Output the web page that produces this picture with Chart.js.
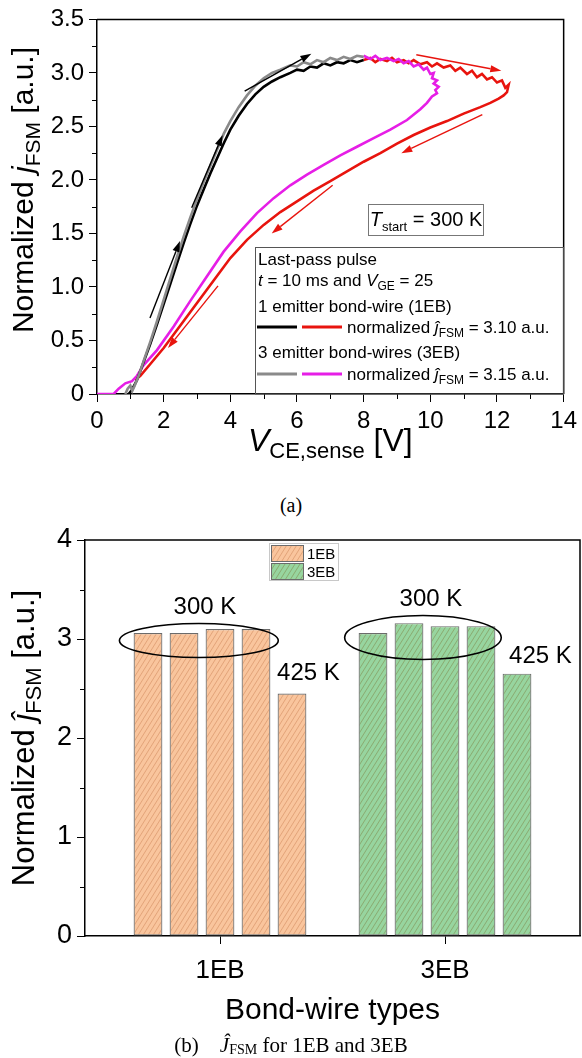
<!DOCTYPE html>
<html>
<head>
<meta charset="utf-8">
<script src="https://cdn.jsdelivr.net/npm/chart.js@4.4.1/dist/chart.umd.min.js"></script>
<style>
  html, body { margin: 0; padding: 0; background: #fff; width: 582px; height: 1058px; overflow: hidden; }
  canvas { position: absolute; left: 0; display: block; }
  #cA { top: 0; }
  #cB { top: 500px; }
  .cap { position: absolute; left: 0; width: 582px; text-align: center; white-space: nowrap;
         font-family: "Liberation Serif", "DejaVu Serif", serif; color: #000; }
  #capA { top: 493px; font-size: 20px; line-height: 24px; }
  #capB { top: 1032px; font-size: 21px; line-height: 26px; }
  #capB .sub { font-size: 14px; position: relative; top: 2px; }
</style>
</head>
<body>
<canvas id="cA" width="582" height="480"></canvas>
<div class="cap" id="capA">(a)</div>
<canvas id="cB" width="582" height="558"></canvas>
<div class="cap" id="capB">(b)&nbsp;&nbsp;&nbsp; <i>Ĵ</i><span class="sub">FSM</span> for 1EB and 3EB</div>

<script>
// ---------- panel (a): normalized current density vs. sense voltage ----------
// 1EB, rising part (black)
const blackV = [0.95, 1.05, 1.2, 1.4, 1.6, 1.8, 2.0, 2.2, 2.4, 2.6, 2.8, 3.0, 3.2, 3.4, 3.6, 3.8, 4.0, 4.25, 4.5, 4.75,
                5.0, 5.25, 5.5, 5.8, 6.0, 6.2, 6.4, 6.6, 6.8, 7.0, 7.2, 7.4, 7.6, 7.8, 8.0];
const blackJ = [0.00, 0.04, 0.13, 0.30, 0.47, 0.65, 0.84, 1.03, 1.22, 1.41, 1.59, 1.76, 1.91, 2.06, 2.20, 2.34, 2.47, 2.60, 2.71, 2.80,
                2.87, 2.92, 2.96, 3.00, 3.03, 3.02, 3.06, 3.05, 3.09, 3.07, 3.10, 3.09, 3.12, 3.10, 3.12];
// 1EB, turning and falling part (red)
const redV = [8.0, 8.2, 8.35, 8.5, 8.7, 8.85, 9.0, 9.2, 9.35, 9.5, 9.7, 9.9, 10.05, 10.2, 10.4, 10.6, 10.75, 10.9, 11.1, 11.25,
              11.4, 11.55, 11.7, 11.85, 12.0, 12.15, 12.25, 12.35, 12.3, 12.2, 12.05, 11.8, 11.5, 11.0, 10.5, 10.0, 9.5, 9.0,
              8.5, 8.0, 7.5, 7.0, 6.5, 6.0, 5.5, 5.0, 4.5, 4.0, 3.5, 3.0, 2.5, 2.0, 1.6, 1.3, 1.15];
const redJ = [3.12, 3.14, 3.10, 3.13, 3.11, 3.14, 3.10, 3.12, 3.09, 3.12, 3.08, 3.10, 3.06, 3.09, 3.05, 3.07, 3.02, 3.05, 2.99, 3.02,
              2.96, 2.99, 2.94, 2.96, 2.91, 2.93, 2.86, 2.89, 2.82, 2.79, 2.76, 2.72, 2.68, 2.62, 2.55, 2.49, 2.42, 2.34,
              2.25, 2.17, 2.08, 1.99, 1.90, 1.80, 1.70, 1.58, 1.44, 1.27, 1.06, 0.85, 0.64, 0.43, 0.28, 0.17, 0.13];
// 3EB, rising part (gray)
const grayV = [0.85, 0.92, 1.0, 1.06, 1.12, 1.25, 1.4, 1.6, 1.8, 2.0, 2.2, 2.4, 2.6, 2.8, 3.0, 3.2, 3.4, 3.6, 3.8, 4.0,
               4.25, 4.5, 4.75, 5.0, 5.25, 5.5, 5.8, 6.0, 6.2, 6.4, 6.6, 6.8, 7.0, 7.2, 7.4, 7.6, 7.8, 8.0];
const grayJ = [0.00, 0.05, 0.08, 0.03, 0.07, 0.17, 0.31, 0.49, 0.68, 0.88, 1.08, 1.28, 1.47, 1.65, 1.82, 1.98, 2.13, 2.28, 2.43, 2.55,
               2.68, 2.79, 2.88, 2.95, 3.00, 3.03, 3.07, 3.06, 3.10, 3.08, 3.12, 3.10, 3.14, 3.12, 3.15, 3.13, 3.16, 3.15];
// 3EB, turning and falling part (magenta)
const magentaV = [8.0, 8.2, 8.35, 8.5, 8.7, 8.9, 9.05, 9.2, 9.35, 9.5, 9.65, 9.8, 9.9, 10.0, 10.1, 10.05, 10.2, 10.1, 10.25, 10.15,
                  10.2, 10.05, 9.9, 9.7, 9.3, 8.8, 8.3, 7.8, 7.3, 6.8, 6.3, 5.8, 5.3, 4.8, 4.3, 3.8, 3.3, 2.8, 2.3, 1.8,
                  1.4, 1.2, 1.05, 0.85, 0.65, 0.5, 0.0];
const magentaJ = [3.16, 3.13, 3.16, 3.12, 3.14, 3.11, 3.13, 3.09, 3.11, 3.06, 3.08, 3.03, 3.05, 2.99, 3.00, 2.95, 2.93, 2.90, 2.87, 2.84,
                  2.81, 2.78, 2.72, 2.66, 2.56, 2.47, 2.39, 2.31, 2.23, 2.14, 2.05, 1.95, 1.83, 1.69, 1.52, 1.33, 1.10, 0.87, 0.63, 0.41,
                  0.27, 0.17, 0.12, 0.10, 0.05, 0.00, 0.00];
// direction arrows [V0, J0, V1, J1]
const arrowsBlack = [[1.59, 0.71, 2.49, 1.43], [2.84, 1.74, 3.77, 2.42], [4.43, 2.83, 6.43, 3.18]];
const arrowsRed = [[9.58, 3.17, 12.13, 3.02], [11.56, 2.61, 9.13, 2.25], [7.07, 1.95, 5.24, 1.50], [3.63, 1.01, 2.13, 0.43]];
const peakFSM = ['3.10', '3.15'];

// ---------- panel (b): normalized peak current per pulse ----------
const bondTypes = ['1EB', '3EB'];
const pulses1EB = [3.06, 3.06, 3.10, 3.10, 2.45];
const pulses3EB = [3.06, 3.16, 3.13, 3.13, 2.65];
const tempLabels = ['300 K', '425 K'];

const SANS = '"Liberation Sans", Arial, Helvetica, sans-serif';
const toXY = (xs, ys) => xs.map((x, i) => ({ x: x, y: ys[i] }));

// draws a run of differently styled text pieces on one baseline
function textRun(ctx, parts, x, y, align) {
  let total = 0;
  const m = parts.map(p => {
    const font = (p.it ? 'italic ' : '') + p.sz + 'px ' + SANS;
    ctx.font = font;
    const w = ctx.measureText(p.t).width;
    total += w;
    return { t: p.t, font: font, w: w, dy: p.dy || 0 };
  });
  let cx = align === 'center' ? x - total / 2 : (align === 'right' ? x - total : x);
  ctx.textAlign = 'left';
  ctx.textBaseline = 'alphabetic';
  ctx.fillStyle = '#000';
  for (const p of m) { ctx.font = p.font; ctx.fillText(p.t, cx, y + p.dy); cx += p.w; }
}

function arrow(ctx, x0, y0, x1, y1, color) {
  const a = Math.atan2(y1 - y0, x1 - x0), L = 11, W = 3.6;
  const bx = x1 - L * Math.cos(a), by = y1 - L * Math.sin(a);
  ctx.strokeStyle = color; ctx.fillStyle = color; ctx.lineWidth = 1.4;
  ctx.beginPath(); ctx.moveTo(x0, y0); ctx.lineTo(bx, by); ctx.stroke();
  ctx.beginPath();
  ctx.moveTo(x1, y1);
  ctx.lineTo(bx - W * Math.sin(a), by + W * Math.cos(a));
  ctx.lineTo(bx + W * Math.sin(a), by - W * Math.cos(a));
  ctx.closePath(); ctx.fill();
}

function minorTicks(ctx, scale, values, len) {
  ctx.strokeStyle = '#000'; ctx.lineWidth = 1;
  ctx.beginPath();
  for (const v of values) {
    const p = Math.round(scale.getPixelForValue(v)) + 0.5;
    if (scale.axis === 'x') { ctx.moveTo(p, scale.top); ctx.lineTo(p, scale.top + len); }
    else { ctx.moveTo(scale.right - len, p); ctx.lineTo(scale.right, p); }
  }
  ctx.stroke();
}

function frame(ctx, area) {
  ctx.strokeStyle = '#000'; ctx.lineWidth = 1.5;
  ctx.beginPath();
  ctx.moveTo(area.left, area.top); ctx.lineTo(area.right, area.top); ctx.lineTo(area.right, area.bottom);
  ctx.stroke();
}

const COLORS = { black: '#000000', red: '#e8140e', gray: '#8a8a8a', magenta: '#e61ee6' };

// ---------- chart (a) ----------
const decorA = {
  id: 'decorA',
  afterDraw(chart) {
    const ctx = chart.ctx, a = chart.chartArea, xs = chart.scales.x, ys = chart.scales.y;
    ctx.save();
    frame(ctx, a);
    minorTicks(ctx, xs, [1, 3, 5, 7, 9, 11, 13], 5);
    minorTicks(ctx, ys, [0.25, 0.75, 1.25, 1.75, 2.25, 2.75, 3.25], 5);

    for (const r of arrowsBlack) arrow(ctx, xs.getPixelForValue(r[0]), ys.getPixelForValue(r[1]), xs.getPixelForValue(r[2]), ys.getPixelForValue(r[3]), COLORS.black);
    for (const r of arrowsRed) arrow(ctx, xs.getPixelForValue(r[0]), ys.getPixelForValue(r[1]), xs.getPixelForValue(r[2]), ys.getPixelForValue(r[3]), COLORS.red);

    // start temperature box
    ctx.strokeStyle = '#777'; ctx.lineWidth = 1;
    ctx.strokeRect(368.5, 204.5, 115, 31);
    textRun(ctx, [{ t: 'T', sz: 20, it: true }, { t: 'start', sz: 13, dy: 5 }, { t: ' = 300 K', sz: 20 }], 426, 226, 'center');

    // legend
    ctx.strokeStyle = '#555'; ctx.lineWidth = 1;
    ctx.strokeRect(255.5, 247.5, a.right - 255.5, a.bottom - 247.5);
    const L = 258, fs = 17, sub = 12;
    textRun(ctx, [{ t: 'Last-pass pulse', sz: fs }], L, 265, 'left');
    textRun(ctx, [{ t: 't', sz: fs, it: true }, { t: ' = 10 ms and ', sz: fs }, { t: 'V', sz: fs, it: true }, { t: 'GE', sz: sub, dy: 4 }, { t: ' = 25', sz: fs }], L, 286, 'left');
    textRun(ctx, [{ t: '1 emitter bond-wire (1EB)', sz: fs }], L, 312, 'left');
    textRun(ctx, [{ t: '3 emitter bond-wires (3EB)', sz: fs }], L, 358, 'left');
    const rows = [[327, COLORS.black, COLORS.red, peakFSM[0]], [374, COLORS.gray, COLORS.magenta, peakFSM[1]]];
    for (const row of rows) {
      ctx.lineWidth = 3;
      ctx.strokeStyle = row[1]; ctx.beginPath(); ctx.moveTo(257, row[0]); ctx.lineTo(297, row[0]); ctx.stroke();
      ctx.strokeStyle = row[2]; ctx.beginPath(); ctx.moveTo(302, row[0]); ctx.lineTo(342, row[0]); ctx.stroke();
      textRun(ctx, [{ t: 'normalized ', sz: fs }, { t: 'ĵ', sz: fs, it: true }, { t: 'FSM', sz: sub, dy: 4 }, { t: ' = ' + row[3] + ' a.u.', sz: fs }], 347, row[0] + 6, 'left');
    }

    // axis titles
    textRun(ctx, [{ t: 'V', sz: 32, it: true }, { t: 'CE,sense', sz: 22, dy: 7 }, { t: ' [V]', sz: 32 }], (a.left + a.right) / 2, 451, 'center');
    ctx.save();
    ctx.translate(33, 190);
    ctx.rotate(-Math.PI / 2);
    textRun(ctx, [{ t: 'Normalized ', sz: 30 }, { t: 'j', sz: 30, it: true }, { t: 'FSM', sz: 21, dy: 7 }, { t: ' [a.u.]', sz: 30 }], 0, 0, 'center');
    ctx.restore();
    ctx.restore();
  }
};

const lineDs = (xs, ys, color) => ({
  data: toXY(xs, ys), showLine: true, borderColor: color, backgroundColor: color,
  borderWidth: 2.6, pointRadius: 0, tension: 0, fill: false
});

new Chart(document.getElementById('cA'), {
  type: 'scatter',
  data: {
    datasets: [
      lineDs(grayV, grayJ, COLORS.gray),
      lineDs(blackV, blackJ, COLORS.black),
      lineDs(magentaV, magentaJ, COLORS.magenta),
      lineDs(redV, redJ, COLORS.red)
    ]
  },
  options: {
    responsive: false, animation: false, events: [],
    layout: { padding: { top: 17, right: 17, left: 0, bottom: 0 } },
    plugins: { legend: { display: false }, tooltip: { enabled: false } },
    scales: {
      x: {
        type: 'linear', min: 0, max: 14,
        ticks: { stepSize: 2, color: '#000', padding: 5, maxRotation: 0, font: { family: SANS, size: 24 } },
        grid: { display: true, drawOnChartArea: false, drawTicks: true, tickLength: 8, tickColor: '#000', tickWidth: 1 },
        border: { display: true, color: '#000', width: 1.5 },
        afterFit(s) { s.height = 86; }
      },
      y: {
        type: 'linear', min: 0, max: 3.5,
        ticks: { stepSize: 0.5, color: '#000', padding: 5, font: { family: SANS, size: 24 } },
        grid: { display: true, drawOnChartArea: false, drawTicks: true, tickLength: 8, tickColor: '#000', tickWidth: 1 },
        border: { display: true, color: '#000', width: 1.5 },
        afterFit(s) { s.width = 97; }
      }
    }
  },
  plugins: [decorA]
});

// ---------- chart (b) ----------
function hatch(fill, line) {
  const w = 5, h = 8;
  const c = document.createElement('canvas');
  c.width = w; c.height = h;
  const g = c.getContext('2d');
  g.fillStyle = fill; g.fillRect(0, 0, w, h);
  g.strokeStyle = line; g.lineWidth = 0.8;
  g.beginPath();
  for (const ox of [-w, 0, w]) { g.moveTo(ox - 1, h + h / w); g.lineTo(ox + w + 1, -h / w); }
  g.stroke();
  return g.createPattern(c, 'repeat');
}
const ctxB = document.getElementById('cB').getContext('2d');
const hatchOrange = hatch('#f9c59d', '#dc9a70');
const hatchGreen = hatch('#97d59f', '#86a064');
const BAR_EDGE = '#6b6b6b';

const decorB = {
  id: 'decorB',
  afterDraw(chart) {
    const ctx = chart.ctx, a = chart.chartArea, xs = chart.scales.x, ys = chart.scales.y;
    ctx.save();
    frame(ctx, a);
    minorTicks(ctx, ys, [0.5, 1.5, 2.5, 3.5], 5);

    // legend
    ctx.strokeStyle = '#c8c8c8'; ctx.lineWidth = 1;
    ctx.strokeRect(269.5, 43.5, 69, 37);
    [[hatchOrange, 45, bondTypes[0]], [hatchGreen, 63, bondTypes[1]]].forEach(r => {
      ctx.fillStyle = r[0]; ctx.fillRect(271, r[1], 32, 16);
      ctx.strokeStyle = BAR_EDGE; ctx.strokeRect(271.5, r[1] + 0.5, 32, 16);
      textRun(ctx, [{ t: r[2], sz: 15 }], 307, r[1] + 14, 'left');
    });

    // 300 K groups and 425 K labels
    const rings = [[0.906, 2.985, 0.353, 0.172], [1.902, 3.015, 0.348, 0.222]];
    ctx.strokeStyle = '#000'; ctx.lineWidth = 1.6;
    for (const r of rings) {
      const cx = xs.getPixelForValue(r[0]), cy = ys.getPixelForValue(r[1]);
      const rx = xs.getPixelForValue(r[0] + r[2]) - cx, ry = cy - ys.getPixelForValue(r[1] + r[3]);
      ctx.beginPath(); ctx.ellipse(cx, cy, rx, ry, 0, 0, Math.PI * 2); ctx.stroke();
    }
    const notes = [[0.933, 3.25, tempLabels[0]], [1.9375, 3.33, tempLabels[0]], [1.393, 2.59, tempLabels[1]], [2.424, 2.76, tempLabels[1]]];
    for (const n of notes) textRun(ctx, [{ t: n[2], sz: 24 }], xs.getPixelForValue(n[0]), ys.getPixelForValue(n[1]), 'center');

    // axis titles
    textRun(ctx, [{ t: 'Bond-wire types', sz: 30 }], (a.left + a.right) / 2, 519, 'center');
    ctx.save();
    ctx.translate(34, 238);
    ctx.rotate(-Math.PI / 2);
    textRun(ctx, [{ t: 'Normalized ', sz: 31 }, { t: 'ĵ', sz: 31, it: true }, { t: 'FSM', sz: 22, dy: 7 }, { t: ' [a.u.]', sz: 31 }], 0, 0, 'center');
    ctx.restore();
    ctx.restore();
  }
};

new Chart(ctxB, {
  type: 'bar',
  data: {
    datasets: pulses1EB.map((v, i) => ({
      label: 'Pulse ' + (i + 1),
      data: [{ x: 1, y: pulses1EB[i] }, { x: 2, y: pulses3EB[i] }],
      backgroundColor: [hatchOrange, hatchGreen],
      borderColor: BAR_EDGE, borderWidth: 1.2, borderSkipped: false,
      categoryPercentage: 0.8, barPercentage: 0.8
    }))
  },
  options: {
    responsive: false, animation: false, events: [],
    layout: { padding: { top: 40, right: 2, left: 0, bottom: 0 } },
    plugins: { legend: { display: false }, tooltip: { enabled: false } },
    scales: {
      x: {
        type: 'linear', min: 0.4, max: 2.6, offset: false,
        afterBuildTicks(s) { s.ticks = [{ value: 1 }, { value: 2 }]; },
        ticks: { color: '#000', padding: 11, maxRotation: 0, font: { family: SANS, size: 26 },
                 callback: (v, i) => bondTypes[i] },
        grid: { display: true, offset: false, drawOnChartArea: false, drawTicks: true, tickLength: 8, tickColor: '#000', tickWidth: 1 },
        border: { display: true, color: '#000', width: 1.5 },
        afterFit(s) { s.height = 122; }
      },
      y: {
        type: 'linear', min: 0, max: 4,
        ticks: { stepSize: 1, color: '#000', padding: 5, font: { family: SANS, size: 27 } },
        grid: { display: true, drawOnChartArea: false, drawTicks: true, tickLength: 8, tickColor: '#000', tickWidth: 1 },
        border: { display: true, color: '#000', width: 1.5 },
        afterFit(s) { s.width = 85; }
      }
    }
  },
  plugins: [decorB]
});
</script>
</body>
</html>
